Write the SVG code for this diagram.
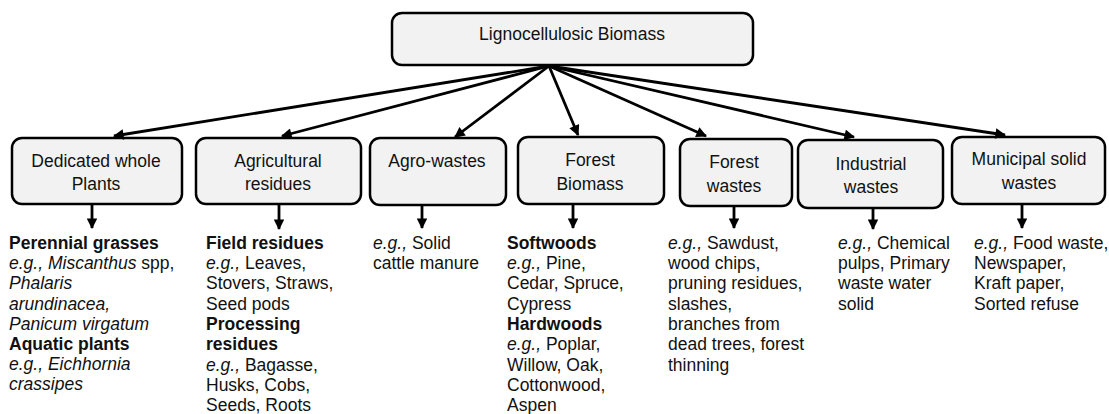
<svg xmlns="http://www.w3.org/2000/svg" width="1109" height="414" viewBox="0 0 1109 414">
<style>
.box{fill:#f2f2f2;stroke:#000;stroke-width:2.5}
.lbl{font-family:"Liberation Sans",Arial,sans-serif;font-size:17.5px;fill:#111;text-anchor:middle}
.t{font-family:"Liberation Sans",Arial,sans-serif;font-size:17.5px;fill:#111}
.b{font-weight:bold}
.i{font-style:italic}
.ln{stroke:#000;stroke-width:2.8;fill:none;marker-end:url(#ah)}
</style>
<defs>
<marker id="ah" viewBox="0 0 10 10" refX="9" refY="5" markerWidth="4.2" markerHeight="3.8" orient="auto" markerUnits="strokeWidth">
<path d="M0,0 L10,5 L0,10 Z" fill="#000"/>
</marker>
</defs>
<rect width="1109" height="414" fill="#fff"/>
<g id="root">
<rect class="box" x="392" y="13" width="361" height="52" rx="10"/>
<text class="lbl" x="572" y="40">Lignocellulosic Biomass</text>
</g>
<g id="n1">
<rect class="box" x="12" y="138" width="170" height="66" rx="10"/>
<text class="lbl" x="96" y="167">Dedicated whole</text>
<text class="lbl" x="96" y="190">Plants</text>
</g>
<g id="n2">
<rect class="box" x="196" y="138" width="165" height="66" rx="10"/>
<text class="lbl" x="278" y="167">Agricultural</text>
<text class="lbl" x="278" y="190">residues</text>
</g>
<g id="n3">
<rect class="box" x="370" y="138" width="136" height="67" rx="10"/>
<text class="lbl" x="437" y="167">Agro-wastes</text>
</g>
<g id="n4">
<rect class="box" x="518" y="137" width="146" height="67" rx="10"/>
<text class="lbl" x="590" y="166">Forest</text>
<text class="lbl" x="590" y="190">Biomass</text>
</g>
<g id="n5">
<rect class="box" x="680" y="139" width="112" height="67" rx="10"/>
<text class="lbl" x="734" y="168">Forest</text>
<text class="lbl" x="734" y="192">wastes</text>
</g>
<g id="n6">
<rect class="box" x="798" y="140" width="145" height="68" rx="10"/>
<text class="lbl" x="871" y="170">Industrial</text>
<text class="lbl" x="871" y="193">wastes</text>
</g>
<g id="n7">
<rect class="box" x="952" y="137" width="153" height="67" rx="10"/>
<text class="lbl" x="1029" y="165">Municipal solid</text>
<text class="lbl" x="1029" y="189">wastes</text>
</g>
<g id="connectors">
<line class="ln" x1="549" y1="66" x2="114" y2="136"/>
<line class="ln" x1="549" y1="66" x2="282" y2="136"/>
<line class="ln" x1="549" y1="66" x2="455" y2="137"/>
<line class="ln" x1="549" y1="66" x2="578" y2="135"/>
<line class="ln" x1="549" y1="66" x2="706" y2="136"/>
<line class="ln" x1="549" y1="66" x2="854" y2="137"/>
<line class="ln" x1="549" y1="66" x2="1005" y2="135"/>
<line class="ln" x1="92" y1="204" x2="92" y2="228"/>
<line class="ln" x1="279" y1="204" x2="279" y2="229"/>
<line class="ln" x1="422" y1="205" x2="422" y2="228"/>
<line class="ln" x1="573" y1="204" x2="573" y2="228"/>
<line class="ln" x1="734" y1="206" x2="734" y2="228"/>
<line class="ln" x1="873" y1="208" x2="873" y2="229"/>
<line class="ln" x1="1022" y1="204" x2="1022" y2="228"/>
</g>
<g id="text1" class="t">
<text x="9" y="249" class="b">Perennial grasses</text>
<text x="9" y="269"><tspan class="i">e.g., Miscanthus</tspan> spp,</text>
<text x="9" y="289" class="i">Phalaris</text>
<text x="9" y="310" class="i">arundinacea,</text>
<text x="9" y="330" class="i">Panicum virgatum</text>
<text x="9" y="350" class="b">Aquatic plants</text>
<text x="9" y="370" class="i">e.g., Eichhornia</text>
<text x="9" y="390" class="i">crassipes</text>
</g>
<g id="text2" class="t">
<text x="206" y="249" class="b">Field residues</text>
<text x="206" y="269"><tspan class="i">e.g.,</tspan> Leaves,</text>
<text x="206" y="289">Stovers, Straws,</text>
<text x="206" y="310">Seed pods</text>
<text x="206" y="330" class="b">Processing</text>
<text x="206" y="350" class="b">residues</text>
<text x="206" y="371"><tspan class="i">e.g.,</tspan> Bagasse,</text>
<text x="206" y="391">Husks, Cobs,</text>
<text x="206" y="411">Seeds, Roots</text>
</g>
<g id="text3" class="t">
<text x="373" y="249"><tspan class="i">e.g.,</tspan> Solid</text>
<text x="373" y="269">cattle manure</text>
</g>
<g id="text4" class="t">
<text x="507" y="249" class="b">Softwoods</text>
<text x="507" y="269"><tspan class="i">e.g.,</tspan> Pine,</text>
<text x="507" y="289">Cedar, Spruce,</text>
<text x="507" y="310">Cypress</text>
<text x="507" y="330" class="b">Hardwoods</text>
<text x="507" y="350"><tspan class="i">e.g.,</tspan> Poplar,</text>
<text x="507" y="371">Willow, Oak,</text>
<text x="507" y="391">Cottonwood,</text>
<text x="507" y="411">Aspen</text>
</g>
<g id="text5" class="t">
<text x="668" y="249"><tspan class="i">e.g.,</tspan> Sawdust,</text>
<text x="668" y="269">wood chips,</text>
<text x="668" y="289">pruning residues,</text>
<text x="668" y="310">slashes,</text>
<text x="668" y="330">branches from</text>
<text x="668" y="350">dead trees, forest</text>
<text x="668" y="371">thinning</text>
</g>
<g id="text6" class="t">
<text x="838" y="249"><tspan class="i">e.g.,</tspan> Chemical</text>
<text x="838" y="269">pulps, Primary</text>
<text x="838" y="289">waste water</text>
<text x="838" y="310">solid</text>
</g>
<g id="text7" class="t">
<text x="974" y="249"><tspan class="i">e.g.,</tspan> Food waste,</text>
<text x="974" y="269">Newspaper,</text>
<text x="974" y="289">Kraft paper,</text>
<text x="974" y="310">Sorted refuse</text>
</g>
</svg>
